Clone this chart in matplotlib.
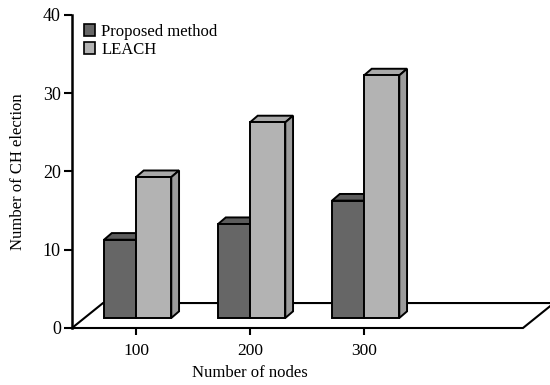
import matplotlib.pyplot as plt
from matplotlib.patches import Polygon, Patch

# number of nodes and CH elections per method
nodes = ["100", "200", "300"]
proposed = [10, 12, 15]
leach = [18, 25, 31]

plt.rcParams['font.family'] = ['Liberation Serif', 'DejaVu Serif']
plt.rcParams['font.size'] = 12

fig = plt.figure(figsize=(5.5, 3.85), dpi=100)
ax = fig.add_axes([72 / 550, 57 / 385, 478 / 550, 313 / 385])
ax.set_xlim(0.439, 4.632)
ax.set_ylim(0, 40)

# pseudo 3d offsets (x in category units, y in value units)
floor_dx, floor_dy = 0.272, 3.19
bar_dx, bar_dy = 0.068, 0.85
base = 1.28
x0, x1 = 0.439, 4.395

floor = Polygon([(x0, 0), (x1, 0), (x1 + floor_dx, floor_dy), (x0 + floor_dx, floor_dy)],
                closed=True, facecolor='white', edgecolor='black', lw=1.5,
                clip_on=False, zorder=1)
ax.add_patch(floor)


def draw_bar(left, right, value, front, top, side, show_side):
    y1 = base + value
    ax.add_patch(Polygon([(left, y1), (left + bar_dx, y1 + bar_dy),
                          (right + bar_dx, y1 + bar_dy), (right, y1)],
                         closed=True, facecolor=top, edgecolor='black', lw=1.4,
                         clip_on=False, zorder=3))
    if show_side:
        ax.add_patch(Polygon([(right, base), (right, y1), (right + bar_dx, y1 + bar_dy),
                              (right + bar_dx, base + bar_dy)],
                             closed=True, facecolor=side, edgecolor='black', lw=1.4,
                             clip_on=False, zorder=3))
    ax.add_patch(Polygon([(left, base), (left, y1), (right, y1), (right, base)],
                         closed=True, facecolor=front, edgecolor='black', lw=1.4,
                         clip_on=False, zorder=4))


for i, (p, l) in enumerate(zip(proposed, leach)):
    c = i + 1
    draw_bar(c - 0.28, c, p, '#666666', '#5c5c5c', '#555555', False)
    draw_bar(c, c + 0.31, l, '#b3b3b3', '#a9a9a9', '#9c9c9c', True)

for s in ['top', 'right', 'bottom']:
    ax.spines[s].set_visible(False)
ax.spines['left'].set_linewidth(1.8)
ax.spines['left'].set_zorder(5)

ax.set_yticks([0, 10, 20, 30, 40])
ax.set_xticks([1, 2, 3])
ax.set_xticklabels(nodes)
ax.tick_params(axis='y', length=6, width=1.5, pad=2, labelsize=13)
ax.tick_params(axis='x', length=5, width=1.5, pad=6, labelsize=12.5)

ax.set_ylabel("Number of CH election", labelpad=12)
ax.set_xlabel("Number of nodes", labelpad=4)
xl = ax.get_xlim()
ax.xaxis.label.set_x((2 - xl[0]) / (xl[1] - xl[0]))

handles = [Patch(facecolor='#666666', edgecolor='black', lw=1.2, label='Proposed method'),
           Patch(facecolor='#b3b3b3', edgecolor='black', lw=1.2, label='LEACH')]
ax.legend(handles=handles, loc='upper left', bbox_to_anchor=(0.0, 1.01), frameon=False,
          handlelength=0.7, handleheight=0.7, handletextpad=0.35, labelspacing=0.15,
          borderaxespad=0.3)

fig.savefig("out.png", dpi=100)
